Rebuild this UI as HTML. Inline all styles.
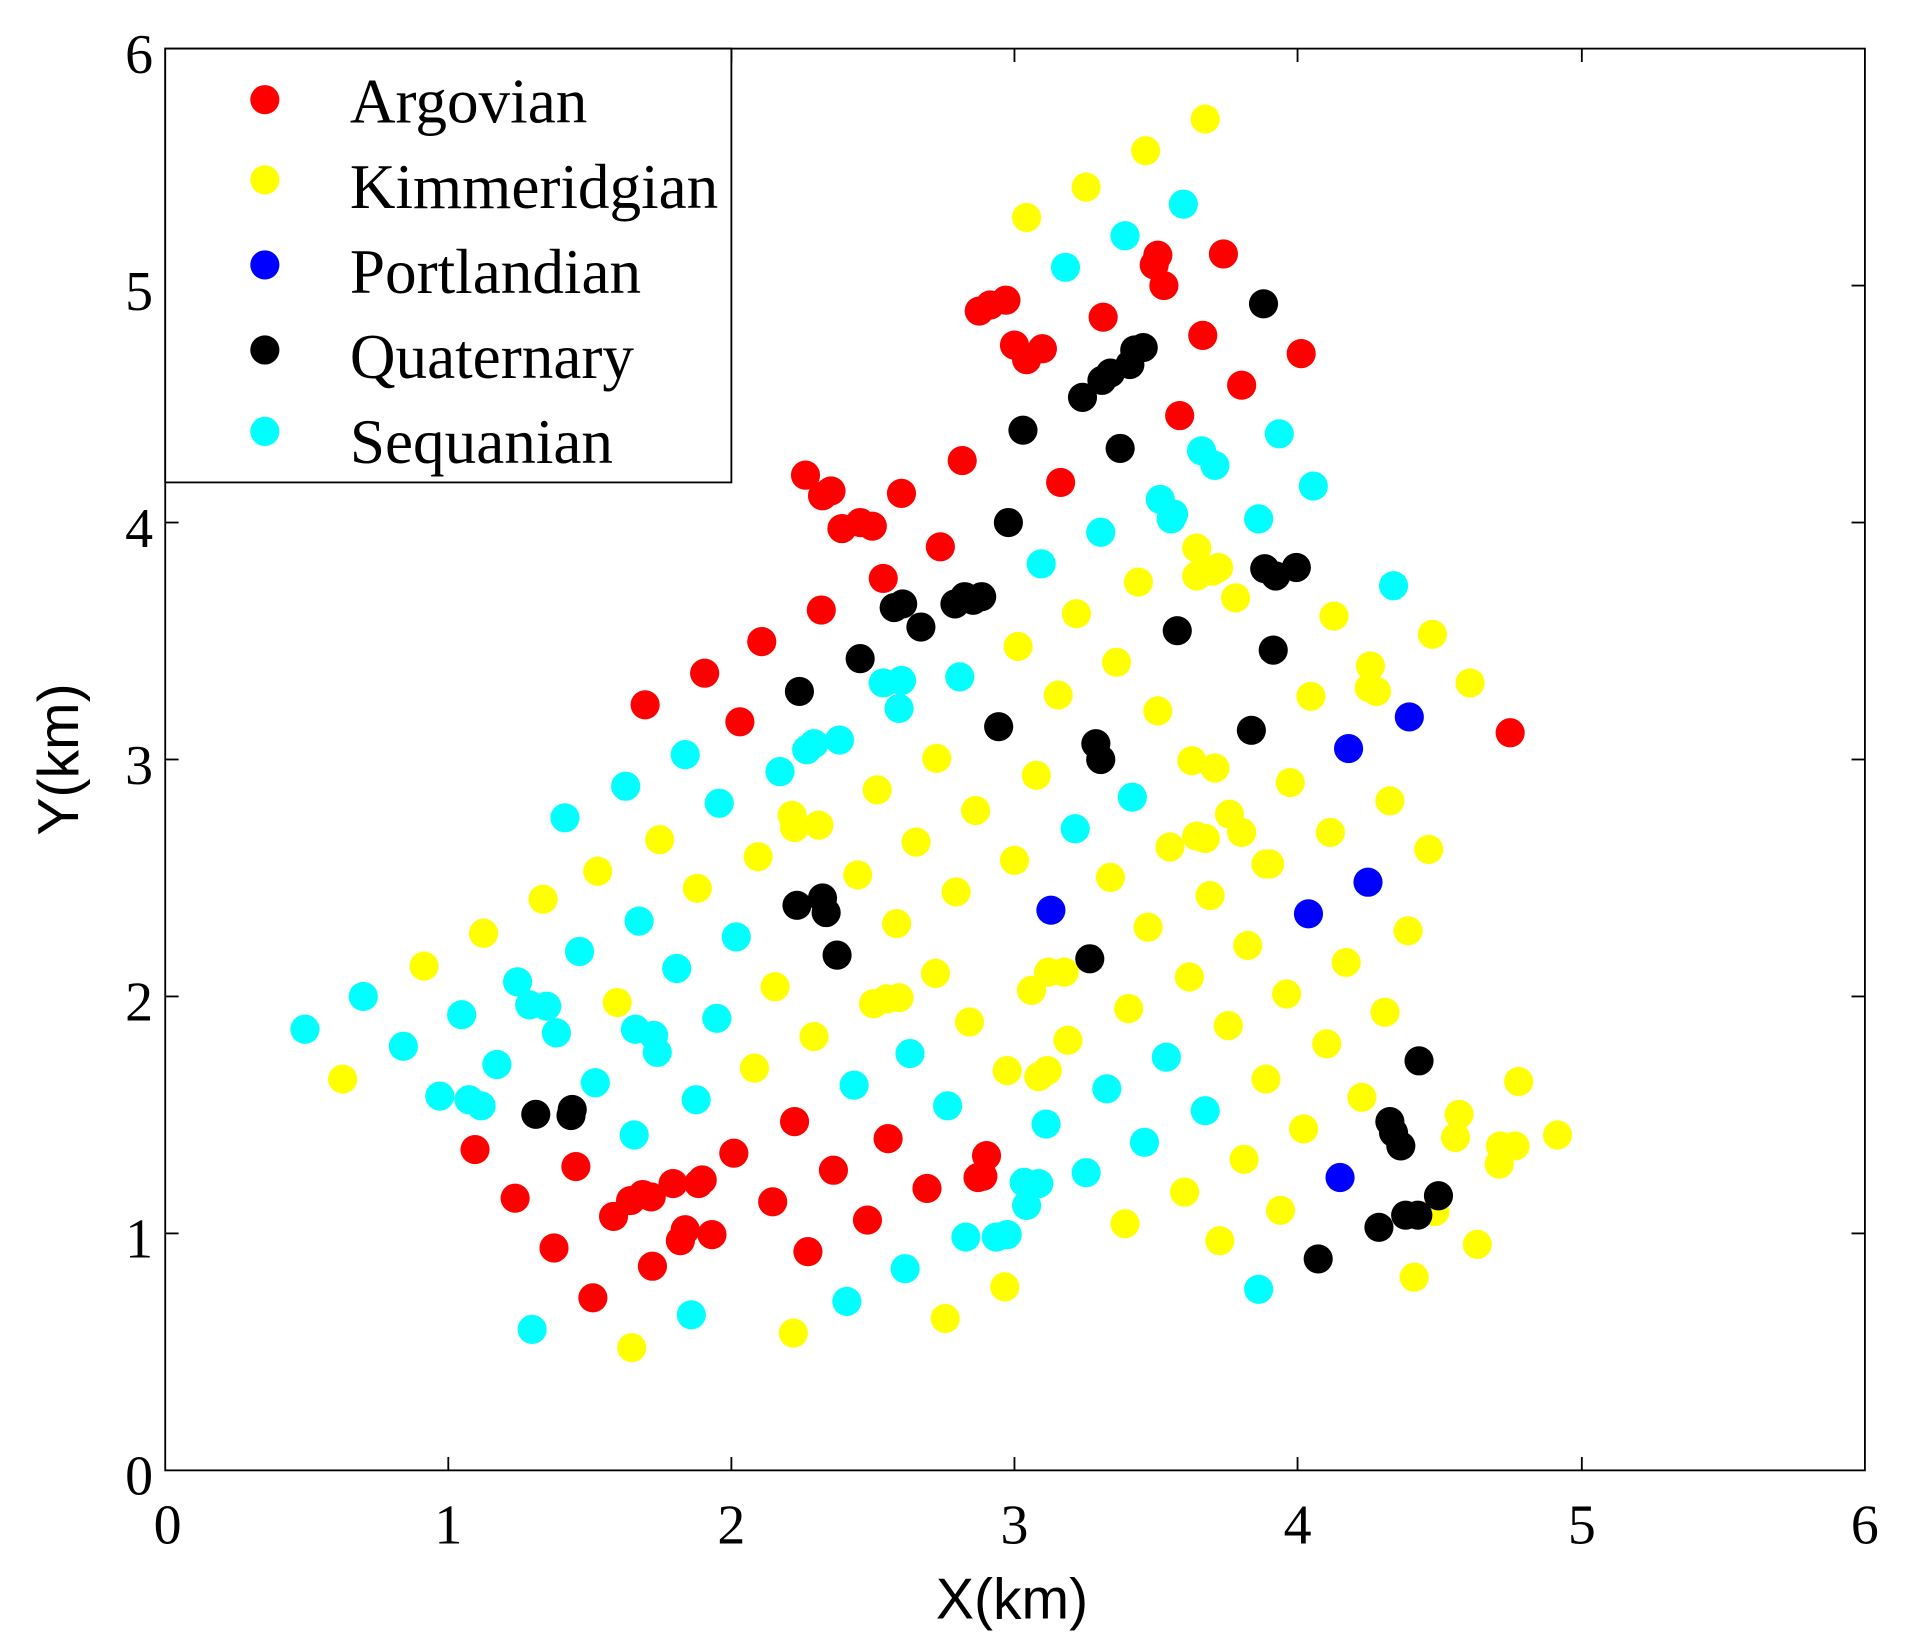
<!DOCTYPE html>
<html><head><style>html,body{margin:0;padding:0;background:#fff}svg{display:block}</style></head><body>
<svg width="1905" height="1649" viewBox="0 0 1568 1357" preserveAspectRatio="none" xmlns="http://www.w3.org/2000/svg">
<rect width="1568" height="1357" fill="#fff"/>
<g id="pts">
<g fill="#ff0000">
<circle cx="806" cy="256" r="12"/><circle cx="815" cy="251" r="12"/><circle cx="828" cy="247" r="12"/><circle cx="908" cy="261" r="12"/><circle cx="953" cy="210" r="12"/><circle cx="950" cy="218" r="12"/><circle cx="958" cy="235" r="12"/><circle cx="1007" cy="209" r="12"/><circle cx="990" cy="276" r="12"/><circle cx="1071" cy="291" r="12"/><circle cx="1022" cy="317" r="12"/><circle cx="971" cy="342" r="12"/><circle cx="835" cy="284" r="12"/><circle cx="845" cy="296" r="12"/><circle cx="858" cy="287" r="12"/><circle cx="873" cy="397" r="12"/><circle cx="792" cy="379" r="12"/><circle cx="742" cy="406" r="12"/><circle cx="663" cy="391" r="12"/><circle cx="677" cy="408" r="12"/><circle cx="684" cy="404" r="12"/><circle cx="693" cy="435" r="12"/><circle cx="708" cy="430" r="12"/><circle cx="718" cy="433" r="12"/><circle cx="774" cy="450" r="12"/><circle cx="727" cy="476" r="12"/><circle cx="676" cy="502" r="12"/><circle cx="627" cy="528" r="12"/><circle cx="580" cy="554" r="12"/><circle cx="531" cy="580" r="12"/><circle cx="609" cy="594" r="12"/><circle cx="1243" cy="603" r="12"/><circle cx="391" cy="946" r="12"/><circle cx="424" cy="986" r="12"/><circle cx="456" cy="1027" r="12"/><circle cx="488" cy="1068" r="12"/><circle cx="474" cy="960" r="12"/><circle cx="505" cy="1001" r="12"/><circle cx="519" cy="988" r="12"/><circle cx="529" cy="983" r="12"/><circle cx="536" cy="985" r="12"/><circle cx="537" cy="1042" r="12"/><circle cx="554" cy="974" r="12"/><circle cx="564" cy="1012" r="12"/><circle cx="560" cy="1021" r="12"/><circle cx="575" cy="974" r="12"/><circle cx="578" cy="971" r="12"/><circle cx="586" cy="1016" r="12"/><circle cx="604" cy="949" r="12"/><circle cx="636" cy="989" r="12"/><circle cx="654" cy="923" r="12"/><circle cx="665" cy="1030" r="12"/><circle cx="686" cy="963" r="12"/><circle cx="714" cy="1004" r="12"/><circle cx="731" cy="937" r="12"/><circle cx="763" cy="978" r="12"/><circle cx="812" cy="951" r="12"/><circle cx="809" cy="968" r="12"/><circle cx="805" cy="969" r="12"/>
</g>
<g fill="#ffff00">
<circle cx="992" cy="98" r="12"/><circle cx="943" cy="124" r="12"/><circle cx="894" cy="154" r="12"/><circle cx="845" cy="179" r="12"/><circle cx="886" cy="505" r="12"/><circle cx="937" cy="479" r="12"/><circle cx="985" cy="451" r="12"/><circle cx="985" cy="474" r="12"/><circle cx="998" cy="470" r="12"/><circle cx="1017" cy="492" r="12"/><circle cx="1098" cy="507" r="12"/><circle cx="1179" cy="522" r="12"/><circle cx="1210" cy="562" r="12"/><circle cx="1128" cy="548" r="12"/><circle cx="1133" cy="569" r="12"/><circle cx="1127" cy="566" r="12"/><circle cx="1079" cy="573" r="12"/><circle cx="1144" cy="659" r="12"/><circle cx="1176" cy="699" r="12"/><circle cx="1095" cy="685" r="12"/><circle cx="1062" cy="644" r="12"/><circle cx="1042" cy="711" r="12"/><circle cx="1022" cy="685" r="12"/><circle cx="1012" cy="670" r="12"/><circle cx="985" cy="688" r="12"/><circle cx="992" cy="690" r="12"/><circle cx="963" cy="697" r="12"/><circle cx="981" cy="626" r="12"/><circle cx="953" cy="585" r="12"/><circle cx="919" cy="545" r="12"/><circle cx="871" cy="572" r="12"/><circle cx="838" cy="532" r="12"/><circle cx="853" cy="638" r="12"/><circle cx="803" cy="667" r="12"/><circle cx="771" cy="624" r="12"/><circle cx="722" cy="650" r="12"/><circle cx="754" cy="693" r="12"/><circle cx="787" cy="734" r="12"/><circle cx="835" cy="708" r="12"/><circle cx="914" cy="722" r="12"/><circle cx="945" cy="763" r="12"/><circle cx="996" cy="737" r="12"/><circle cx="1027" cy="778" r="12"/><circle cx="1045" cy="711" r="12"/><circle cx="1108" cy="792" r="12"/><circle cx="1059" cy="818" r="12"/><circle cx="1159" cy="766" r="12"/><circle cx="1140" cy="833" r="12"/><circle cx="1092" cy="859" r="12"/><circle cx="1121" cy="903" r="12"/><circle cx="1011" cy="844" r="12"/><circle cx="929" cy="830" r="12"/><circle cx="979" cy="804" r="12"/><circle cx="879" cy="856" r="12"/><circle cx="863" cy="800" r="12"/><circle cx="876" cy="800" r="12"/><circle cx="849" cy="815" r="12"/><circle cx="829" cy="881" r="12"/><circle cx="855" cy="886" r="12"/><circle cx="862" cy="881" r="12"/><circle cx="770" cy="801" r="12"/><circle cx="798" cy="841" r="12"/><circle cx="738" cy="760" r="12"/><circle cx="706" cy="720" r="12"/><circle cx="674" cy="679" r="12"/><circle cx="652" cy="671" r="12"/><circle cx="654" cy="681" r="12"/><circle cx="624" cy="705" r="12"/><circle cx="574" cy="731" r="12"/><circle cx="543" cy="691" r="12"/><circle cx="492" cy="717" r="12"/><circle cx="447" cy="740" r="12"/><circle cx="398" cy="768" r="12"/><circle cx="349" cy="795" r="12"/><circle cx="282" cy="888" r="12"/><circle cx="508" cy="825" r="12"/><circle cx="638" cy="812" r="12"/><circle cx="670" cy="853" r="12"/><circle cx="621" cy="879" r="12"/><circle cx="719" cy="826" r="12"/><circle cx="730" cy="822" r="12"/><circle cx="740" cy="821" r="12"/><circle cx="1042" cy="888" r="12"/><circle cx="1024" cy="954" r="12"/><circle cx="1073" cy="929" r="12"/><circle cx="1054" cy="996" r="12"/><circle cx="975" cy="981" r="12"/><circle cx="926" cy="1007" r="12"/><circle cx="1004" cy="1021" r="12"/><circle cx="1164" cy="1051" r="12"/><circle cx="1216" cy="1024" r="12"/><circle cx="1181" cy="997" r="12"/><circle cx="1201" cy="917" r="12"/><circle cx="1198" cy="936" r="12"/><circle cx="1234" cy="958" r="12"/><circle cx="1247" cy="943" r="12"/><circle cx="1250" cy="890" r="12"/><circle cx="1282" cy="934" r="12"/><circle cx="1235" cy="943" r="12"/><circle cx="827" cy="1059" r="12"/><circle cx="778" cy="1085" r="12"/><circle cx="653" cy="1097" r="12"/><circle cx="520" cy="1109" r="12"/><circle cx="1003" cy="467" r="12"/><circle cx="1000" cy="632" r="12"/>
</g>
<g fill="#0000ff">
<circle cx="1160" cy="590" r="12"/><circle cx="1110" cy="616" r="12"/><circle cx="1126" cy="726" r="12"/><circle cx="1077" cy="752" r="12"/><circle cx="865" cy="749" r="12"/><circle cx="1103" cy="969" r="12"/>
</g>
<g fill="#000000">
<circle cx="1040" cy="250" r="12"/><circle cx="941" cy="286" r="12"/><circle cx="934" cy="288" r="12"/><circle cx="930" cy="300" r="12"/><circle cx="914" cy="307" r="12"/><circle cx="907" cy="313" r="12"/><circle cx="891" cy="327" r="12"/><circle cx="922" cy="369" r="12"/><circle cx="842" cy="354" r="12"/><circle cx="830" cy="430" r="12"/><circle cx="794" cy="491" r="12"/><circle cx="786" cy="497" r="12"/><circle cx="808" cy="491" r="12"/><circle cx="801" cy="494" r="12"/><circle cx="743" cy="497" r="12"/><circle cx="736" cy="500" r="12"/><circle cx="758" cy="516" r="12"/><circle cx="708" cy="542" r="12"/><circle cx="658" cy="569" r="12"/><circle cx="969" cy="519" r="12"/><circle cx="1041" cy="468" r="12"/><circle cx="1050" cy="474" r="12"/><circle cx="1067" cy="467" r="12"/><circle cx="1048" cy="535" r="12"/><circle cx="1030" cy="601" r="12"/><circle cx="902" cy="612" r="12"/><circle cx="906" cy="625" r="12"/><circle cx="822" cy="598" r="12"/><circle cx="656" cy="745" r="12"/><circle cx="677" cy="739" r="12"/><circle cx="680" cy="751" r="12"/><circle cx="689" cy="786" r="12"/><circle cx="897" cy="789" r="12"/><circle cx="441" cy="917" r="12"/><circle cx="471" cy="913" r="12"/><circle cx="470" cy="918" r="12"/><circle cx="1168" cy="873" r="12"/><circle cx="1144" cy="923" r="12"/><circle cx="1147" cy="932" r="12"/><circle cx="1153" cy="943" r="12"/><circle cx="1135" cy="1010" r="12"/><circle cx="1085" cy="1036" r="12"/><circle cx="1157" cy="1000" r="12"/><circle cx="1167" cy="1000" r="12"/><circle cx="1184" cy="984" r="12"/>
</g>
<g fill="#00ffff">
<circle cx="974" cy="168" r="12"/><circle cx="926" cy="194" r="12"/><circle cx="877" cy="220" r="12"/><circle cx="1053" cy="357" r="12"/><circle cx="989" cy="371" r="12"/><circle cx="1000" cy="383" r="12"/><circle cx="1081" cy="400" r="12"/><circle cx="1036" cy="427" r="12"/><circle cx="955" cy="411" r="12"/><circle cx="966" cy="423" r="12"/><circle cx="964" cy="427" r="12"/><circle cx="906" cy="438" r="12"/><circle cx="857" cy="464" r="12"/><circle cx="1147" cy="482" r="12"/><circle cx="790" cy="557" r="12"/><circle cx="727" cy="562" r="12"/><circle cx="742" cy="560" r="12"/><circle cx="740" cy="583" r="12"/><circle cx="691" cy="609" r="12"/><circle cx="670" cy="612" r="12"/><circle cx="664" cy="617" r="12"/><circle cx="642" cy="635" r="12"/><circle cx="564" cy="621" r="12"/><circle cx="515" cy="647" r="12"/><circle cx="465" cy="673" r="12"/><circle cx="592" cy="661" r="12"/><circle cx="932" cy="656" r="12"/><circle cx="885" cy="682" r="12"/><circle cx="526" cy="758" r="12"/><circle cx="477" cy="783" r="12"/><circle cx="557" cy="797" r="12"/><circle cx="606" cy="771" r="12"/><circle cx="426" cy="808" r="12"/><circle cx="436" cy="827" r="12"/><circle cx="450" cy="828" r="12"/><circle cx="458" cy="850" r="12"/><circle cx="409" cy="876" r="12"/><circle cx="332" cy="861" r="12"/><circle cx="299" cy="820" r="12"/><circle cx="251" cy="847" r="12"/><circle cx="380" cy="835" r="12"/><circle cx="523" cy="847" r="12"/><circle cx="538" cy="852" r="12"/><circle cx="541" cy="866" r="12"/><circle cx="590" cy="838" r="12"/><circle cx="490" cy="891" r="12"/><circle cx="362" cy="902" r="12"/><circle cx="386" cy="905" r="12"/><circle cx="396" cy="910" r="12"/><circle cx="573" cy="905" r="12"/><circle cx="703" cy="893" r="12"/><circle cx="749" cy="867" r="12"/><circle cx="780" cy="910" r="12"/><circle cx="861" cy="925" r="12"/><circle cx="911" cy="896" r="12"/><circle cx="960" cy="870" r="12"/><circle cx="992" cy="914" r="12"/><circle cx="894" cy="965" r="12"/><circle cx="843" cy="973" r="12"/><circle cx="855" cy="974" r="12"/><circle cx="845" cy="992" r="12"/><circle cx="820" cy="1018" r="12"/><circle cx="829" cy="1016" r="12"/><circle cx="795" cy="1018" r="12"/><circle cx="942" cy="940" r="12"/><circle cx="522" cy="934" r="12"/><circle cx="745" cy="1044" r="12"/><circle cx="697" cy="1071" r="12"/><circle cx="569" cy="1082" r="12"/><circle cx="438" cy="1094" r="12"/><circle cx="1036" cy="1061" r="12"/>
</g>
</g>
<rect x="136" y="40" width="1399" height="1170" fill="none" stroke="#000" stroke-width="1.5"/>
<g stroke="#000" stroke-width="1.5">
<line x1="369" y1="1210" x2="369" y2="1199"/><line x1="602" y1="1210" x2="602" y2="1199"/><line x1="835" y1="1210" x2="835" y2="1199"/><line x1="1068" y1="1210" x2="1068" y2="1199"/><line x1="1302" y1="1210" x2="1302" y2="1199"/>
<line x1="369" y1="40" x2="369" y2="51"/><line x1="602" y1="40" x2="602" y2="51"/><line x1="835" y1="40" x2="835" y2="51"/><line x1="1068" y1="40" x2="1068" y2="51"/><line x1="1302" y1="40" x2="1302" y2="51"/>
<line x1="1535" y1="1015" x2="1524" y2="1015"/><line x1="1535" y1="820" x2="1524" y2="820"/><line x1="1535" y1="625" x2="1524" y2="625"/><line x1="1535" y1="430" x2="1524" y2="430"/><line x1="1535" y1="235" x2="1524" y2="235"/>
<line x1="136" y1="1015" x2="147" y2="1015"/><line x1="136" y1="820" x2="147" y2="820"/><line x1="136" y1="625" x2="147" y2="625"/><line x1="136" y1="430" x2="147" y2="430"/><line x1="136" y1="235" x2="147" y2="235"/>
</g>
<g font-family="Liberation Serif, serif" font-size="46" fill="#000">
<g text-anchor="middle">
<text x="138" y="1270">0</text><text x="369" y="1270">1</text><text x="602" y="1270">2</text><text x="835" y="1270">3</text><text x="1068" y="1270">4</text><text x="1302" y="1270">5</text><text x="1535" y="1270">6</text>
</g>
<g text-anchor="end">
<text x="126" y="1230">0</text><text x="126" y="1035">1</text><text x="126" y="840">2</text><text x="126" y="645">3</text><text x="126" y="450">4</text><text x="126" y="255">5</text><text x="126" y="60">6</text>
</g>
</g>
<text x="833" y="1332" text-anchor="middle" font-family="Liberation Sans, sans-serif" font-size="47" fill="#000">X(km)</text>
<text transform="translate(64,625) rotate(-90)" text-anchor="middle" font-family="Liberation Sans, sans-serif" font-size="47" fill="#000">Y(km)</text>
<rect x="136" y="40" width="466" height="357" fill="#fff" stroke="#000" stroke-width="1.5"/>
<circle cx="218" cy="82" r="12" fill="#ff0000"/>
<circle cx="218" cy="148" r="12" fill="#ffff00"/>
<circle cx="218" cy="218" r="12" fill="#0000ff"/>
<circle cx="218" cy="288" r="12" fill="#000"/>
<circle cx="218" cy="355" r="12" fill="#00ffff"/>
<g font-family="Liberation Serif, serif" font-size="52" fill="#000">
<text x="288" y="101">Argovian</text>
<text x="288" y="171">Kimmeridgian</text>
<text x="288" y="241">Portlandian</text>
<text x="288" y="311">Quaternary</text>
<text x="288" y="381">Sequanian</text>
</g>
</svg>
</body></html>
